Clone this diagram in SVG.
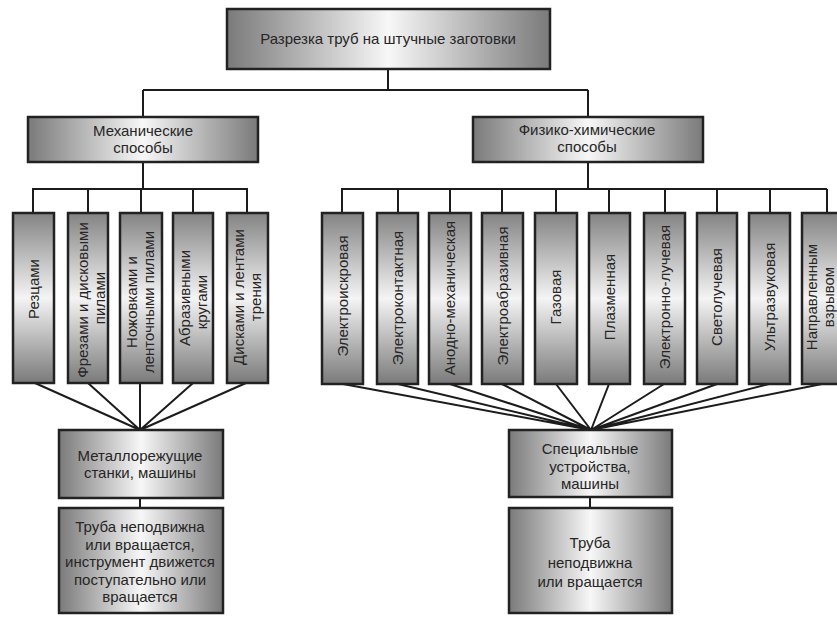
<svg xmlns="http://www.w3.org/2000/svg" width="837" height="617" viewBox="0 0 837 617">
  <style>
    .box { stroke: #222; stroke-width: 2.5; }
    .h { fill: url(#gradH); }
    .v { fill: url(#gradV); }
    .link { stroke: #1c1c1c; stroke-width: 2; fill: none; }
    text { font-family: "Liberation Sans", Arial, sans-serif; font-size: 15px; fill: #262626; text-anchor: middle; }
  </style>
  <defs>
    <!-- light centre, darker edges along the long side of each box -->
    <linearGradient id="gradH" x1="0" y1="0" x2="1" y2="0">
      <stop offset="0" stop-color="#7a7a7a"/>
      <stop offset="0.5" stop-color="#f7f7f7"/>
      <stop offset="1" stop-color="#7a7a7a"/>
    </linearGradient>
    <linearGradient id="gradV" x1="0" y1="0" x2="0" y2="1">
      <stop offset="0" stop-color="#838383"/>
      <stop offset="0.5" stop-color="#f4f4f4"/>
      <stop offset="1" stop-color="#7a7a7a"/>
    </linearGradient>
  </defs>

  <rect width="837" height="617" fill="#ffffff"/>

  <!-- connectors -->
  <g id="connectors" class="link">
    <path d="M388 69 V90 M143 90 H588 M143 90 V117 M588 90 V117"/>
    <!-- mechanical branch -->
    <path d="M143 162 V189 M32 189 H248 M33 189 V213 M88 189 V213 M141 189 V213 M193 189 V213 M247 189 V213"/>
    <path d="M35 383 L140 430 M88 383 L140 430 M140 383 V430 M193 383 L140 430 M246 383 L140 430"/>
    <path d="M140 498 V508"/>
    <!-- physico-chemical branch -->
    <path d="M588 162 V189 M341 189 H827 M342 189 V213 M398 189 V213 M450 189 V213 M502 189 V213 M556 189 V213 M609 189 V213 M665 189 V213 M717 189 V213 M770 189 V213 M827 189 V213"/>
    <path d="M343 384 L591 430 M398 384 L591 430 M450 384 L591 430 M502 384 L591 430 M556 384 L591 430 M609 384 L591 430 M664 384 L591 430 M717 384 L591 430 M769 384 L591 430 M822 384 L591 430"/>
    <path d="M590 497 V508"/>
  </g>

  <!-- top node -->
  <g id="root">
    <rect class="box h" x="227" y="9" width="323" height="60"/>
    <text x="388" y="44">Разрезка труб на штучные заготовки</text>
  </g>

  <g id="mechanical">
    <rect class="box h" x="28" y="117" width="230" height="45"/>
    <text x="143" y="136">Механические</text>
    <text x="143" y="153">способы</text>
  </g>

  <g id="physchem">
    <rect class="box h" x="473" y="117" width="230" height="45"/>
    <text x="587" y="135">Физико-химические</text>
    <text x="587" y="152">способы</text>
  </g>

  <!-- mechanical methods -->
  <g id="m1">
    <rect class="box v" x="13" y="213" width="41" height="170"/>
    <text transform="translate(39 289) rotate(-90)">Резцами</text>
  </g>
  <g id="m2">
    <rect class="box v" x="68" y="213" width="40" height="170"/>
    <text transform="translate(87.5 300) rotate(-90)">Фрезами и дисковыми</text>
    <text transform="translate(104.5 298) rotate(-90)">пилами</text>
  </g>
  <g id="m3">
    <rect class="box v" x="120" y="213" width="42" height="170"/>
    <text transform="translate(137 302) rotate(-90)">Ножовками и</text>
    <text transform="translate(154 302) rotate(-90)">ленточными пилами</text>
  </g>
  <g id="m4">
    <rect class="box v" x="173" y="213" width="40" height="170"/>
    <text transform="translate(190 298) rotate(-90)">Абразивными</text>
    <text transform="translate(207 302) rotate(-90)">кругами</text>
  </g>
  <g id="m5">
    <rect class="box v" x="227" y="213" width="41" height="170"/>
    <text transform="translate(243.5 297) rotate(-90)">Дисками и лентами</text>
    <text transform="translate(260.5 297) rotate(-90)">трения</text>
  </g>

  <!-- physico-chemical methods -->
  <g id="p1">
    <rect class="box v" x="322" y="213" width="41" height="171"/>
    <text transform="translate(347.5 296) rotate(-90)">Электроискровая</text>
  </g>
  <g id="p2">
    <rect class="box v" x="377" y="213" width="41" height="171"/>
    <text transform="translate(402.5 298) rotate(-90)">Электроконтактная</text>
  </g>
  <g id="p3">
    <rect class="box v" x="429" y="213" width="42" height="171"/>
    <text transform="translate(455 298) rotate(-90)">Анодно-механическая</text>
  </g>
  <g id="p4">
    <rect class="box v" x="482" y="213" width="41" height="171"/>
    <text transform="translate(507.5 296) rotate(-90)">Электроабразивная</text>
  </g>
  <g id="p5">
    <rect class="box v" x="535" y="213" width="42" height="171"/>
    <text transform="translate(561 297) rotate(-90)">Газовая</text>
  </g>
  <g id="p6">
    <rect class="box v" x="589" y="213" width="41" height="171"/>
    <text transform="translate(614.5 297) rotate(-90)">Плазменная</text>
  </g>
  <g id="p7">
    <rect class="box v" x="644" y="213" width="41" height="171"/>
    <text transform="translate(669.5 297) rotate(-90)">Электронно-лучевая</text>
  </g>
  <g id="p8">
    <rect class="box v" x="697" y="213" width="40" height="171"/>
    <text transform="translate(722 297) rotate(-90)">Светолучевая</text>
  </g>
  <g id="p9">
    <rect class="box v" x="749" y="213" width="41" height="171"/>
    <text transform="translate(774.5 297) rotate(-90)">Ультразвуковая</text>
  </g>
  <g id="p10">
    <rect class="box v" x="802" y="213" width="46" height="171"/>
    <text transform="translate(817 297) rotate(-90)">Направленным</text>
    <text transform="translate(834 297) rotate(-90)">взрывом</text>
  </g>

  <!-- equipment and motion -->
  <g id="machines">
    <rect class="box h" x="59" y="430" width="164" height="68"/>
    <text x="140" y="461">Металлорежущие</text>
    <text x="140" y="478">станки, машины</text>
  </g>
  <g id="motion-mech">
    <rect class="box h" x="59" y="508" width="164" height="105"/>
    <text x="140" y="532">Труба неподвижна</text>
    <text x="140" y="549.5">или вращается,</text>
    <text x="140" y="567">инструмент движется</text>
    <text x="140" y="584.5">поступательно или</text>
    <text x="140" y="602">вращается</text>
  </g>
  <g id="devices">
    <rect class="box h" x="509" y="430" width="163" height="67"/>
    <text x="590" y="454">Специальные</text>
    <text x="590" y="472">устройства,</text>
    <text x="590" y="489">машины</text>
  </g>
  <g id="motion-phys">
    <rect class="box h" x="509" y="508" width="163" height="105"/>
    <text x="590" y="548">Труба</text>
    <text x="590" y="568">неподвижна</text>
    <text x="590" y="587">или вращается</text>
  </g>
</svg>
